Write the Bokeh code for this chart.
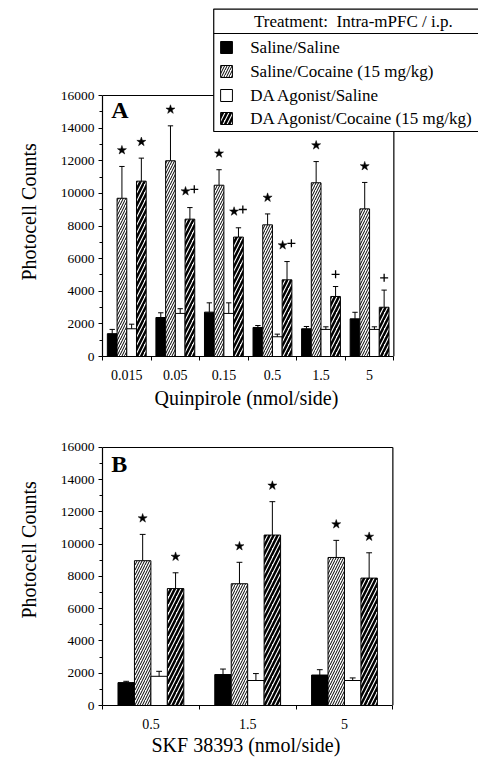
from bokeh.plotting import figure
from bokeh.models import Range1d, FixedTicker, Title
from bokeh.layouts import column
from bokeh.embed import file_html
from bokeh.resources import INLINE
from bokeh.core.properties import value

# ---------------- data ----------------
series_names = ["Saline/Saline", "Saline/Cocaine (15 mg/kg)",
                "DA Agonist/Saline", "DA Agonist/Cocaine (15 mg/kg)"]
legend_header = "Treatment:\u00a0\u00a0Intra-mPFC / i.p."

quin_doses = ["0.015", "0.05", "0.15", "0.5", "1.5", "5"]
quin_sal_sal = [1400, 2390, 2720, 1780, 1700, 2310]
quin_sal_sal_sem = [260, 290, 570, 120, 140, 400]
quin_sal_coc = [9700, 12000, 10500, 8070, 10650, 9050]
quin_sal_coc_sem = [1950, 2140, 950, 670, 1300, 1620]
quin_da_sal = [1700, 2640, 2640, 1210, 1660, 1660]
quin_da_sal_sem = [280, 290, 650, 160, 160, 160]
quin_da_coc = [10750, 8420, 7320, 4700, 3680, 3020]
quin_da_coc_sem = [1410, 710, 570, 1120, 610, 1050]
quin_sig_sal_coc = ["*", "*", "*", "*", "*", "*"]
quin_sig_da_coc = ["*", "*+", "*+", "*+", "+", "+"]

skf_doses = ["0.5", "1.5", "5"]
skf_sal_sal = [1420, 1920, 1890]
skf_sal_sal_sem = [80, 340, 330]
skf_sal_coc = [8980, 7550, 9180]
skf_sal_coc_sem = [1630, 1330, 1060]
skf_da_sal = [1810, 1550, 1550]
skf_da_sal_sem = [310, 430, 160]
skf_da_coc = [7250, 10570, 7900]
skf_da_coc_sem = [980, 2070, 1570]
skf_sig_sal_coc = ["*", "*", "*"]
skf_sig_da_coc = ["*", "*", "*"]

y_ticks = list(range(0, 16001, 2000))
y_minor = list(range(1000, 16000, 2000))
y_title = "Photocell Counts"
xA_title = "Quinpirole (nmol/side)"
xB_title = "SKF 38393 (nmol/side)"

# ---------------- styles ----------------
SERIF = "Liberation Serif"
FONT = value("Liberation Serif")
STYLES = [
    dict(fill_color="black", line_color="black", line_width=1),
    dict(fill_color="white", line_color="black", line_width=1,
         hatch_pattern="/", hatch_scale=5, hatch_weight=1, hatch_color="black"),
    dict(fill_color="white", line_color="black", line_width=1),
    dict(fill_color="white", line_color="black", line_width=1,
         hatch_pattern="/", hatch_scale=8, hatch_weight=2.5, hatch_color="black"),
]


def style_axes(p, xt, xminor, overrides, nx):
    p.xgrid.visible = False
    p.ygrid.visible = False
    ya = p.yaxis[0]
    ya.ticker = FixedTicker(ticks=y_ticks, minor_ticks=y_minor)
    ya.bounds = (0, 16000)
    ya.major_tick_out = 4
    ya.major_tick_in = 0
    ya.minor_tick_out = 3
    ya.minor_tick_in = 0
    ya.major_label_standoff = 4
    ya.major_label_text_font = SERIF
    ya.major_label_text_font_size = "13.5px"
    ya.major_label_text_color = "black"
    ya.axis_line_width = 1.2
    ya.axis_line_color = "black"
    ya.major_tick_line_color = "black"
    ya.minor_tick_line_color = "black"
    xa = p.xaxis[0]
    xa.ticker = FixedTicker(ticks=xt, minor_ticks=xminor)
    xa.bounds = (0, nx)
    xa.major_label_overrides = overrides
    xa.major_tick_out = 0
    xa.major_tick_in = 0
    xa.minor_tick_out = 4
    xa.minor_tick_in = 0
    xa.major_label_standoff = 9
    xa.major_label_text_font = SERIF
    xa.major_label_text_font_size = "14px"
    xa.major_label_text_color = "black"
    xa.axis_line_width = 1.2
    xa.axis_line_color = "black"
    xa.minor_tick_line_color = "black"


def draw_panel(p, n, vals_list, sems_list, bar_w, first_c, cap_hw, sigs, sig_dx):
    tops_all, xs_all = [], []
    for k, (vals, sems) in enumerate(zip(vals_list, sems_list)):
        xs = [i + first_c + k * bar_w for i in range(n)]
        p.vbar(x=xs, top=vals, bottom=0, width=bar_w, **STYLES[k])
        tops = [v + s for v, s in zip(vals, sems)]
        p.segment(x0=xs, y0=vals, x1=xs, y1=tops, line_color="black", line_width=1)
        p.segment(x0=[x - cap_hw for x in xs], y0=tops,
                  x1=[x + cap_hw for x in xs], y1=tops,
                  line_color="black", line_width=1)
        xs_all.append(xs)
        tops_all.append(tops)
    sx, sy, px_, py_ = [], [], [], []
    for k, labels in sigs.items():
        for x, t, lab in zip(xs_all[k], tops_all[k], labels):
            if lab == "*":
                sx.append(x); sy.append(t + 1000)
            elif lab == "+":
                px_.append(x); py_.append(t + 750)
            elif lab == "*+":
                sx.append(x - sig_dx); sy.append(t + 1000)
                px_.append(x + sig_dx); py_.append(t + 1120)
    p.scatter(x=sx, y=sy, marker="star", size=9.5, fill_color="black",
              line_color="black", line_width=0.5)
    if px_:
        p.scatter(x=px_, y=py_, marker="cross", size=8, line_color="black",
                  line_width=1.3)
    # frame top and right edges
    p.segment(x0=[0, n], y0=[16000, 0], x1=[n, n], y1=[16000, 16000],
              line_color="black", line_width=1.2)


def add_titles(p, xt, x_off, y_off, x_standoff):
    p.add_layout(Title(text=y_title, align="left", offset=y_off, standoff=33,
                       vertical_align="middle",
                       text_font=SERIF, text_font_size="20px",
                       text_font_style="normal", text_color="black"), "left")
    p.add_layout(Title(text=xt, align="left", offset=x_off, standoff=x_standoff,
                       vertical_align="top",
                       text_font=SERIF, text_font_size="20px",
                       text_font_style="normal", text_color="black"), "below")


# ---------------- panel A ----------------
UXA = 49.333          # px per group
UYA = 16.3125         # px per 1000 counts
FR_W = 382            # frame width (x 96 -> 478)
FA_H = 356


def pxA(px):
    return (px - 96) / UXA


def pyA(py):
    return (356 - py) / UYA * 1000


pA = figure(width=478, height=420, output_backend="svg", toolbar_location=None,
            x_range=Range1d(0, FR_W / UXA), y_range=Range1d(0, FA_H / UYA * 1000),
            min_border_left=96, min_border_right=0, min_border_top=0,
            min_border_bottom=64, outline_line_color=None,
            background_fill_color="white", border_fill_color="white")
nA = len(quin_doses)
style_axes(pA, [i + 0.5 for i in range(nA)], list(range(nA + 1)),
           {i + 0.5: d for i, d in enumerate(quin_doses)}, nA)

draw_panel(pA, nA,
           [quin_sal_sal, quin_sal_coc, quin_da_sal, quin_da_coc],
           [quin_sal_sal_sem, quin_sal_coc_sem, quin_da_sal_sem, quin_da_coc_sem],
           0.2, 0.2, 0.055, {1: quin_sig_sal_coc, 3: quin_sig_da_coc}, 0.09)

pA.text(x=[pxA(105)], y=[pyA(109.5)], text=["A"], text_font=FONT,
        text_font_size="24px", text_font_style="bold", text_align="left",
        text_baseline="middle", text_color="black")

# legend box
leg_l, leg_r = pxA(209), FR_W / UXA + 1
pA.quad(left=[leg_l], right=[leg_r], top=[pyA(8.6)], bottom=[pyA(131)],
        fill_color="white", line_color="black", line_width=1.2)
pA.segment(x0=[leg_l], y0=[pyA(33)], x1=[leg_r], y1=[pyA(33)],
           line_color="black", line_width=1.2)
pA.text(x=[pxA(250)], y=[pyA(21)], text=[legend_header], text_font=FONT,
        text_font_size="17px", text_align="left", text_baseline="middle",
        text_color="black")
row_py = [47, 71, 95, 118]
for k, (name, rpy) in enumerate(zip(series_names, row_py)):
    pA.quad(left=[pxA(216)], right=[pxA(228)], top=[pyA(rpy - 6)],
            bottom=[pyA(rpy + 6)], **STYLES[k])
    pA.text(x=[pxA(246)], y=[pyA(rpy)], text=[name], text_font=FONT,
            text_font_size="17px", text_align="left", text_baseline="middle",
            text_color="black")

add_titles(pA, xA_title, 52, 76, 8)

# ---------------- panel B ----------------
UXB = 98.333
UYB = 16.375
pB = figure(width=478, height=339, output_backend="svg", toolbar_location=None,
            x_range=Range1d(0, FR_W / UXB), y_range=Range1d(0, 16000 + 1000 / UYB),
            min_border_left=96, min_border_right=0, min_border_top=26,
            min_border_bottom=50, outline_line_color=None,
            background_fill_color="white", border_fill_color="white")
nB = len(skf_doses)
style_axes(pB, [i + 0.5 for i in range(nB)], list(range(nB + 1)),
           {i + 0.5: d for i, d in enumerate(skf_doses)}, nB)

draw_panel(pB, nB,
           [skf_sal_sal, skf_sal_coc, skf_da_sal, skf_da_coc],
           [skf_sal_sal_sem, skf_sal_coc_sem, skf_da_sal_sem, skf_da_coc_sem],
           0.17, 0.245, 0.03, {1: skf_sig_sal_coc, 3: skf_sig_da_coc}, 0.046)

pB.text(x=[(105 - 96) / UXB], y=[(709 - 463.7) / UYB * 1000], text=["B"],
        text_font=FONT, text_font_size="24px", text_font_style="bold",
        text_align="left", text_baseline="middle", text_color="black")

add_titles(pB, xB_title, 49, 87, 4)

layout = column(pA, pB, spacing=0)
open("out.html", "w").write(file_html(layout, INLINE))
